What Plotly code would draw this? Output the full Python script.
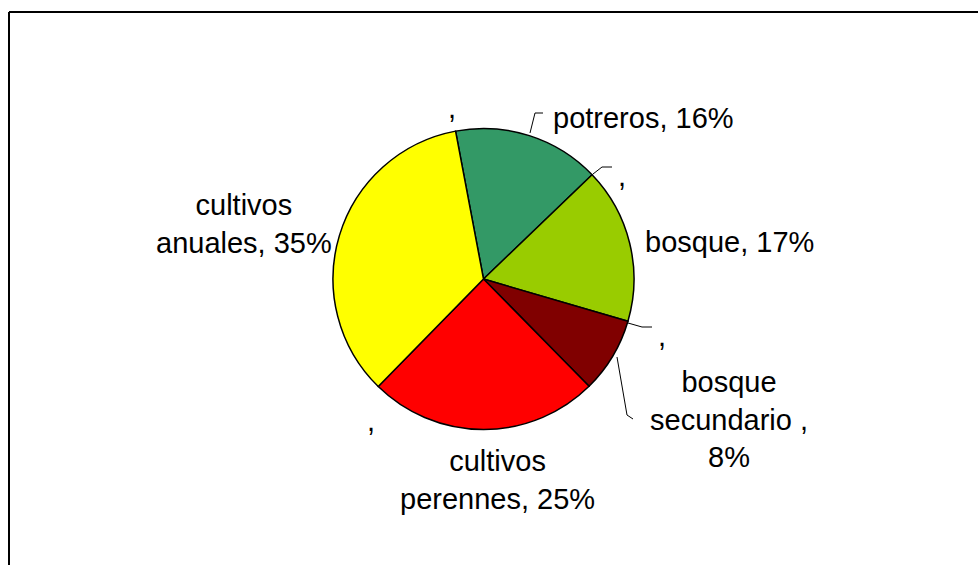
import plotly.graph_objects as go

W, H = 978, 565

# Data
categories = ["potreros", "bosque", "bosque secundario", "cultivos perennes", "cultivos anuales"]
values = [15.8, 16.7, 8.1, 24.7, 34.7]
colors = ["#339966", "#99CC00", "#800000", "#FF0000", "#FFFF00"]
label_texts = ["potreros, 16%", "bosque, 17%", "bosque<br>secundario ,<br>8%",
               "cultivos<br>perennes, 25%", "cultivos<br>anuales, 35%"]
label_pos = [(643, 118), (729, 242), (729, 419), (498, 480), (244, 224)]
empty_labels = [",", ",", ",", ","]
empty_pos = [(452, 108), (622, 176), (662, 336), (371, 421)]

def px(x):
    return x / W

def py(y):
    return 1 - y / H

fig = go.Figure(go.Pie(
    labels=categories,
    values=values,
    sort=False,
    direction="clockwise",
    rotation=-10.7,
    marker=dict(colors=colors, line=dict(color="#000000", width=1.5)),
    textinfo="none",
    hoverinfo="label+percent",
    showlegend=False,
    domain=dict(x=[px(333), px(634)], y=[py(430), py(128)]),
))

font = dict(family="Liberation Sans, Arial, sans-serif", size=29, color="#000000")
annotations = []
for t, (x, y) in zip(label_texts, label_pos):
    annotations.append(dict(text=t, x=px(x), y=py(y), xref="paper", yref="paper",
                            xanchor="center", yanchor="middle", showarrow=False,
                            font=font, align="center"))
for t, (x, y) in zip(empty_labels, empty_pos):
    annotations.append(dict(text=t, x=px(x), y=py(y), xref="paper", yref="paper",
                            xanchor="center", yanchor="middle", showarrow=False,
                            font=font))

leaders = [
    [(530, 133), (535, 113), (543, 113)],
    [(593, 174), (602, 167), (612, 167)],
    [(628, 323), (642, 327), (652, 327)],
    [(617, 357), (627, 415), (633, 419)],
]
shapes = []
for pts in leaders:
    path = "M " + " L ".join(f"{px(x)},{py(y)}" for x, y in pts)
    shapes.append(dict(type="path", path=path, xref="paper", yref="paper",
                       line=dict(color="#000000", width=1)))
# outer chart-area frame (extends past right and bottom edges)
shapes.append(dict(type="line", xref="paper", yref="paper", x0=px(9), y0=py(12), x1=1.05, y1=py(12),
                   line=dict(color="#000000", width=2)))
shapes.append(dict(type="line", xref="paper", yref="paper", x0=px(9), y0=py(12), x1=px(9), y1=-0.05,
                   line=dict(color="#000000", width=2)))

fig.update_layout(
    width=W, height=H,
    margin=dict(l=0, r=0, t=0, b=0),
    paper_bgcolor="#FFFFFF",
    plot_bgcolor="#FFFFFF",
    annotations=annotations,
    shapes=shapes,
)

fig.write_html("out.html",
               config={"displayModeBar": False},
               post_script="document.body.style.margin='0';document.body.style.overflow='hidden';")
